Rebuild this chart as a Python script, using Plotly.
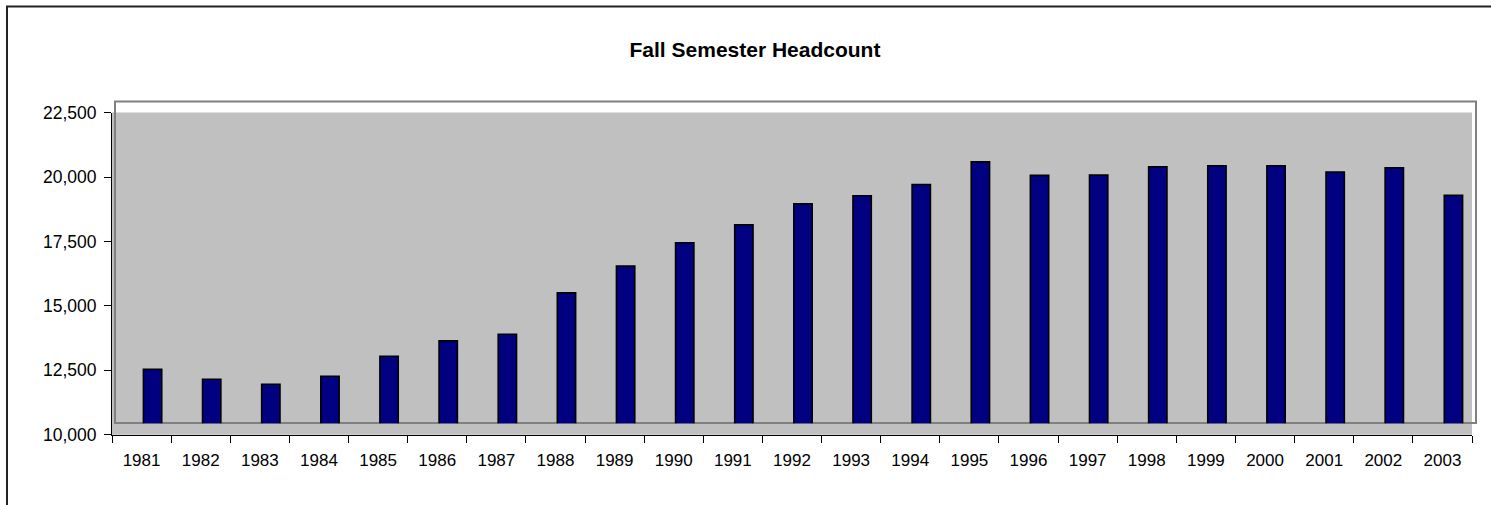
import plotly.graph_objects as go

years = [str(y) for y in range(1981, 2004)]
headcount = [12090, 11710, 11515, 11825, 12600, 13195, 13455, 15060, 16095, 17000,
             17695, 18510, 18825, 19260, 20140, 19615, 19625, 19950, 19990, 19990,
             19745, 19910, 18840]
y_ticks = [10000, 12500, 15000, 17500, 20000, 22500]
y_tick_text = ["10,000", "12,500", "15,000", "17,500", "20,000", "22,500"]
title_text = "Fall Semester Headcount"

W, H = 1491, 505
def px(x):
    return x / W
def py(y):
    return 1 - y / H

FONT = "Liberation Sans, Arial, sans-serif"
n = len(years)

fig = go.Figure()

# bars drawn on the (offset) back-wall axes
fig.add_trace(go.Bar(
    x=years, y=headcount, xaxis="x2", yaxis="y2",
    marker=dict(color="#000080", line=dict(color="#000000", width=1.6)),
    hoverinfo="x+y", showlegend=False,
))

# invisible trace to establish the front category axis
fig.add_trace(go.Bar(x=years, y=[None] * n, xaxis="x", yaxis="y",
                     showlegend=False, hoverinfo="skip"))

fig.update_layout(
    template="none",
    width=W, height=H,
    autosize=False,
    margin=dict(l=0, r=0, t=0, b=0, pad=0),
    paper_bgcolor="white",
    plot_bgcolor="rgba(0,0,0,0)",
    bargap=0.69,
    showlegend=False,
    title=dict(text="<b>" + title_text + "</b>", x=px(755), xanchor="center",
               y=py(50), yanchor="middle", xref="container", yref="container",
               automargin=False,
               font=dict(family=FONT, size=21, color="#000000")),
    xaxis=dict(domain=[px(112), px(1472)], type="category", categoryorder="array",
               categoryarray=years, range=[-0.5, n - 0.5], autorange=False,
               showline=True, linecolor="#000000", linewidth=1,
               ticks="outside", ticklen=7, tickcolor="#000000", tickwidth=1,
               tickson="boundaries", showgrid=False, zeroline=False,
               tickfont=dict(family=FONT, size=17, color="#000000"),
               ticklabelstandoff=10, anchor="y", fixedrange=True, automargin=False),
    yaxis=dict(domain=[py(434.7), py(112.7)], range=[10000, 22500], autorange=False,
               tickvals=y_ticks, ticktext=y_tick_text,
               showline=True, linecolor="#000000", linewidth=1,
               ticks="outside", ticklen=7, tickcolor="#000000", tickwidth=1,
               showgrid=False, zeroline=False,
               tickfont=dict(family=FONT, size=17.5, color="#000000"),
               ticklabelstandoff=4, anchor="x", fixedrange=True, automargin=False),
    xaxis2=dict(domain=[px(123), px(1483)], type="category", categoryorder="array",
                categoryarray=years, range=[-0.5, n - 0.5], autorange=False,
                visible=False, anchor="y2", fixedrange=True, automargin=False),
    yaxis2=dict(domain=[py(423.3), py(101)], range=[10000, 22500], autorange=False,
                visible=False, anchor="x2", fixedrange=True, automargin=False),
    shapes=[
        # gray walls
        dict(type="rect", xref="paper", yref="paper", x0=px(112), x1=px(1472),
             y0=py(434.7), y1=py(112.5), fillcolor="#C0C0C0",
             line=dict(width=0), layer="below"),
        # back wall frame
        dict(type="rect", xref="paper", yref="paper", x0=px(115), x1=px(1476),
             y0=py(423), y1=py(101.5), fillcolor="rgba(0,0,0,0)",
             line=dict(color="#808080", width=2), layer="below"),
        # outer chart border
        dict(type="rect", xref="paper", yref="paper", x0=px(7), x1=px(1520),
             y0=py(530), y1=py(6.5), fillcolor="rgba(0,0,0,0)",
             line=dict(color="#222222", width=2), layer="above"),
    ],
)

fig.write_html("out.html", config={"displayModeBar": False},
               post_script="document.body.style.margin='0';document.body.style.overflow='hidden';")
